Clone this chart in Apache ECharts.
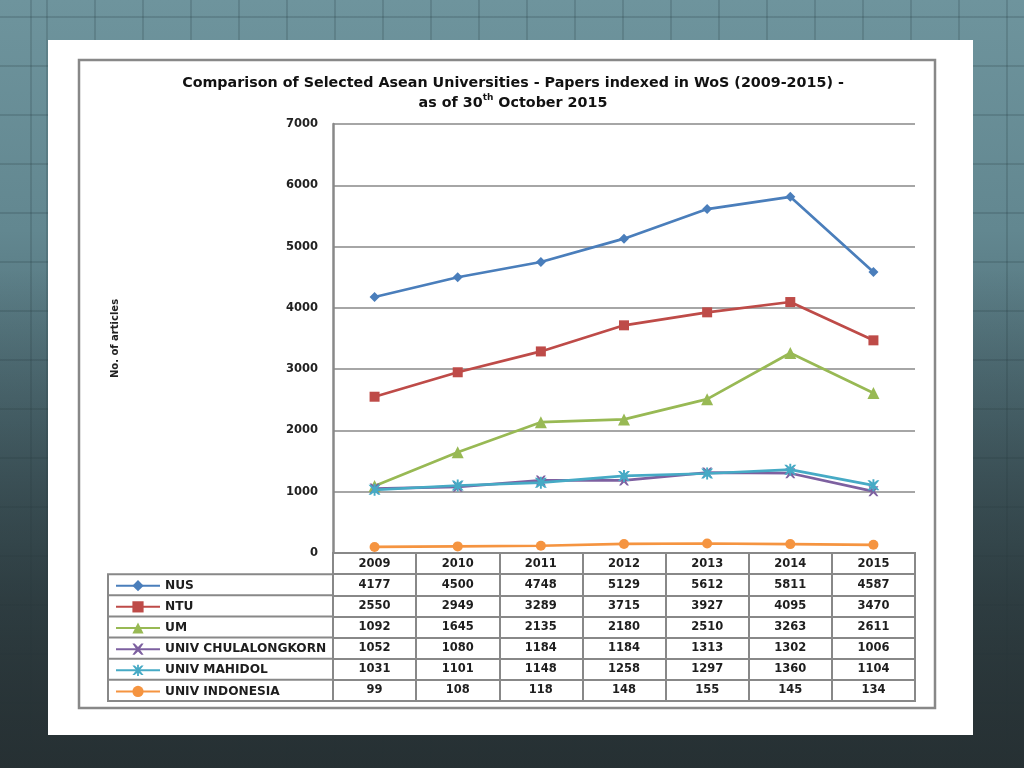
<!DOCTYPE html>
<html>
<head>
<meta charset="utf-8">
<script src="https://cdn.jsdelivr.net/npm/echarts@6/dist/echarts.min.js"></script>
<style>
html,body{margin:0;padding:0;width:1024px;height:768px;overflow:hidden;}
body{
  background:
    linear-gradient(to bottom, rgba(0,0,0,0) 0%, rgba(0,0,0,0) 35%, rgba(44,58,62,0.5) 70%, rgba(38,48,51,0.85) 100%),
    repeating-linear-gradient(to right, rgba(30,50,55,0.18) 0px, rgba(30,50,55,0.18) 2px, transparent 2px, transparent 48px),
    repeating-linear-gradient(to bottom, rgba(30,50,55,0.18) 0px, rgba(30,50,55,0.18) 2px, transparent 2px, transparent 49px),
    linear-gradient(to bottom, #6e949d 0%, #628790 30%, #4b6870 55%, #34474c 78%, #273134 100%);
  background-position: 0 0, 46px 16px, 46px 16px, 0 0;
}
#card{position:absolute;left:48px;top:40px;width:925px;height:695px;background:#fff;}
#main{position:absolute;left:0;top:0;width:1024px;height:768px;}
</style>
</head>
<body>
<div id="card"></div>
<div id="main"></div>
<script>
// ---- data ----
const years = ['2009','2010','2011','2012','2013','2014','2015'];
const names = ['NUS','NTU','UM','UNIV CHULALONGKORN','UNIV MAHIDOL','UNIV INDONESIA'];
const nus       = [4177,4500,4748,5129,5612,5811,4587];
const ntu       = [2550,2949,3289,3715,3927,4095,3470];
const um        = [1092,1645,2135,2180,2510,3263,2611];
const chula     = [1052,1080,1184,1184,1313,1302,1006];
const mahidol   = [1031,1101,1148,1258,1297,1360,1104];
const indonesia = [99,108,118,148,155,145,134];
const yMin = 0, yMax = 7000, yStep = 1000;

const seriesValues = [nus, ntu, um, chula, mahidol, indonesia];
const colors = ['#4a7ebb','#be4b48','#98b954','#7d60a0','#46aac5','#f59440'];
const xPath = 'path://M0,0 L2,0 L5,3 L8,0 L10,0 L6.5,5 L10,10 L8,10 L5,7 L2,10 L0,10 L3.5,5 Z';
const starPath = 'path://M0,0 L2,0 L5,3 L8,0 L10,0 L6.5,5 L10,10 L8,10 L5,7 L2,10 L0,10 L3.5,5 Z M4.2,-1 L5.8,-1 L5.8,11 L4.2,11 Z';
const symbols = ['diamond','rect','triangle',xPath,starPath,'circle'];
const symbolSizes = [10,10,12,10,12,10];

// ---- layout constants ----
const FONT = 'DejaVu Sans';
const gLeft = 333, gRight = 109, gTop = 124, gBottom = 215;
const tTop = 553, tHeight = 148;
const rowH = tHeight / 7;

const chart = echarts.init(document.getElementById('main'), null, {renderer:'canvas'});

const lineSeries = names.map((n, k) => ({
  name: n,
  type: 'line',
  xAxisIndex: 0, yAxisIndex: 0,
  data: seriesValues[k],
  color: colors[k],
  lineStyle: {width: 2.7, color: colors[k]},
  itemStyle: {color: colors[k]},
  symbol: symbols[k],
  symbolSize: symbolSizes[k],
  showAllSymbol: true,
  z: 3 + k
}));

const tableData = [];
years.forEach((y, i) => tableData.push({value:[i, 0], label:{formatter: y}}));
seriesValues.forEach((vals, k) => vals.forEach((v, i) => tableData.push({value:[i, k + 1], label:{formatter: String(v)}})));

const tableSeries = {
  type: 'scatter',
  xAxisIndex: 1, yAxisIndex: 1,
  silent: true,
  symbolSize: 1,
  itemStyle: {color: 'transparent', opacity: 1},
  label: {show: true, position: 'inside', fontFamily: FONT, fontWeight: 'bold', fontSize: 11.5, color: '#1e1e1e', opacity: 1, textBorderWidth: 0},
  data: tableData
};

const leftLines = [];
for (let k = 2; k <= 6; k++) {
  const y = tTop + rowH * k;
  leftLines.push({type:'line', shape:{x1:108, y1:y, x2:gLeft, y2:y}, style:{stroke:'#888', lineWidth:2}, silent:true});
}

chart.setOption({
  backgroundColor: 'transparent',
  animation: false,
  title: {
    left: 508, top: 68, textAlign: 'center',
    text: '{a|Comparison of Selected Asean Universities - Papers indexed in WoS (2009-2015) -}\n{b|as of 30}{s|th}{b| October 2015}',
    textStyle: {
      rich: {
        a: {fontFamily: FONT, fontWeight:'bold', fontSize: 14.3, color:'#111', lineHeight: 20},
        b: {fontFamily: FONT, fontWeight:'bold', fontSize: 14.3, color:'#111', lineHeight: 20},
        s: {fontFamily: FONT, fontWeight:'bold', fontSize: 9, color:'#111', lineHeight: 20, verticalAlign:'top', padding:[0,0,6,0]}
      }
    }
  },
  legend: {
    data: names,
    orient: 'vertical',
    left: 110, top: tTop + rowH + (rowH - 14) / 2 - 4,
    itemWidth: 44, itemHeight: 14, itemGap: rowH - 14,
    textStyle: {fontFamily: FONT, fontWeight:'bold', fontSize: 12.2, color:'#1e1e1e', lineHeight: 14},
    selectedMode: false
  },
  grid: [
    {left: gLeft, right: gRight, top: gTop, bottom: gBottom},
    {left: gLeft, right: gRight, top: tTop, height: tHeight, show: true, borderColor:'#888', borderWidth: 2, backgroundColor:'transparent'}
  ],
  xAxis: [
    {type:'category', gridIndex:0, data: years, boundaryGap: true,
     axisLine:{show:true, lineStyle:{color:'#888', width:2}}, axisTick:{show:false}, axisLabel:{show:false}, splitLine:{show:false}},
    {type:'category', gridIndex:1, data: years, boundaryGap: true,
     axisLine:{show:false}, axisTick:{show:false}, axisLabel:{show:false},
     splitLine:{show:true, interval:0, lineStyle:{color:'#888', width:2}}}
  ],
  yAxis: [
    {type:'value', gridIndex:0, min: yMin, max: yMax, interval: yStep,
     name: 'No. of articles', nameLocation:'middle', nameRotate: 90, nameGap: 213,
     nameTextStyle:{fontFamily: FONT, fontWeight:'bold', fontSize: 10, color:'#222'},
     axisLine:{show:true, lineStyle:{color:'#888', width:2.5}}, axisTick:{show:false},
     axisLabel:{fontFamily: FONT, fontWeight:'bold', fontSize: 11.5, color:'#222', margin: 15, formatter: v => String(v)},
     splitLine:{show:true, lineStyle:{color:'#888', width:1.5}}},
    {type:'category', gridIndex:1, data: ['', ...names], inverse: true, boundaryGap: true,
     axisLine:{show:false}, axisTick:{show:false}, axisLabel:{show:false},
     splitLine:{show:true, interval:0, lineStyle:{color:'#888', width:2}}}
  ],
  graphic: [
    {type:'rect', shape:{x:79, y:60, width:856, height:648}, style:{fill:'none', stroke:'#888', lineWidth:2.5}, silent:true},
    {type:'rect', shape:{x:108, y:tTop + rowH, width:gLeft - 108, height:tHeight - rowH}, style:{fill:'none', stroke:'#888', lineWidth:2}, silent:true},
    ...leftLines
  ],
  series: [...lineSeries, tableSeries]
});
</script>
</body>
</html>
